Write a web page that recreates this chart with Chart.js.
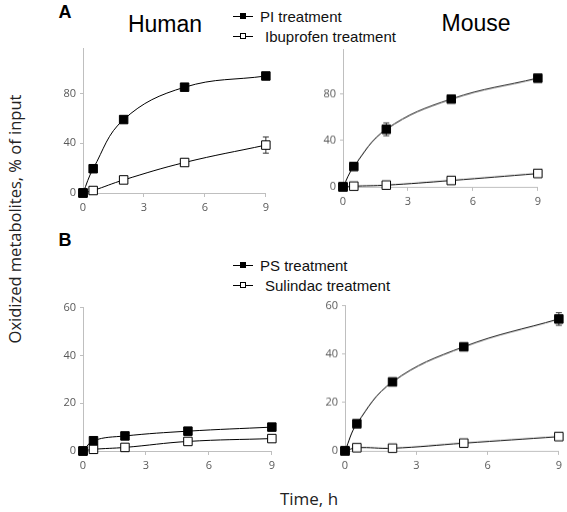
<!DOCTYPE html>
<html>
<head>
<meta charset="utf-8">
<script src="https://cdn.jsdelivr.net/npm/chart.js@4"></script>
<style>
  html, body { margin: 0; padding: 0; background: #fff; }
  body { width: 567px; height: 512px; position: relative; overflow: hidden; }
  canvas { position: absolute; }
  .txt { position: absolute; white-space: nowrap; color: #000; }
  .sans { font-family: "Liberation Sans", Arial, sans-serif; }
  .title { font-size: 23px; transform: translate(-50%, -50%); }
  .letter { font-size: 18px; font-weight: bold; transform: translate(-50%, -50%); }
  .leg { font-size: 15px; color: #111; transform: translateY(-50%); }
  .mark { position: absolute; width: 20px; height: 1px; background: #000; }
  .mark span { position: absolute; left: 7px; top: -3px; width: 4px; height: 4px; border: 1px solid #000; }
  .axt { font-family: "Open Sans", sans-serif; font-size: 16.5px; color: #222; }
</style>
</head>
<body>

<div class="txt sans letter" style="left:65px; top:12px;">A</div>
<div class="txt sans title" style="left:165px; top:24px;">Human</div>
<div class="txt sans title" style="left:476px; top:23px;">Mouse</div>
<div class="mark" style="left:233px; top:16px;"><span style="background:#000"></span></div>
<div class="txt sans leg" style="left:260px; top:16px;">PI treatment</div>
<div class="mark" style="left:233px; top:36px;"><span style="background:#fff"></span></div>
<div class="txt sans leg" style="left:265px; top:36px;">Ibuprofen treatment</div>

<div class="txt sans letter" style="left:65px; top:240px;">B</div>
<div class="mark" style="left:233px; top:265px;"><span style="background:#000"></span></div>
<div class="txt sans leg" style="left:260px; top:265px;">PS treatment</div>
<div class="mark" style="left:233px; top:285px;"><span style="background:#fff"></span></div>
<div class="txt sans leg" style="left:265px; top:285px;">Sulindac treatment</div>

<div class="txt axt" style="left:14px; top:219px; transform: translate(-50%, -50%) rotate(-90deg);">Oxidized metabolites, % of input</div>
<div class="txt axt" style="left:309px; top:498px; font-size:17px; transform: translate(-50%, -50%);">Time, h</div>

<canvas id="humanA"></canvas>
<canvas id="mouseA"></canvas>
<canvas id="humanB"></canvas>
<canvas id="mouseB"></canvas>

<script>
// sampling times (h)
const times = [0, 0.5, 2, 5, 9];
const xTicks = [0, 3, 6, 9];

// panel A
const humanPI = [0, 19.5, 59, 85, 94];
const humanPIErr = [0, 1, 1, 1, 1];
const humanIbu = [0, 2, 10.5, 24.5, 38.5];
const humanIbuErr = [0, 0.5, 1, 1.5, 6.5];
const mousePI = [0, 17.5, 49.5, 75.5, 93.5];
const mousePIErr = [0, 1, 5.5, 2, 1];
const mouseIbu = [0, 0.6, 1.5, 5.5, 11.5];
const mouseIbuErr = [0, 0, 0.5, 0.5, 1];
const ticksA = [0, 40, 80];

// panel B
const humanPS = [0, 4.3, 6.3, 8.3, 10];
const humanPSErr = [0, 0.5, 0.5, 0.5, 0.5];
const humanSul = [0, 0.7, 1.5, 4, 5.2];
const humanSulErr = [0, 0, 0.3, 0.5, 0.8];
const mousePS = [0, 11.2, 28.5, 43, 54.5];
const mousePSErr = [0, 0.5, 0.8, 1.5, 2.6];
const mouseSul = [0, 1.3, 1.1, 3.2, 5.9];
const mouseSulErr = [0, 0, 0, 0.5, 0.8];
const ticksB = [0, 20, 40, 60];

const AXIS = '#bfbfbf';
const LABEL = '#595959';
const YW = 40, XH = 28, PT = 10, PR = 7;

// vertical error bars, drawn under the markers
const errorBars = {
  id: 'errorBars',
  beforeDatasetsDraw(chart) {
    const ctx = chart.ctx;
    const yScale = chart.scales.y;
    ctx.save();
    ctx.strokeStyle = '#333';
    ctx.lineWidth = 1;
    chart.data.datasets.forEach((ds, di) => {
      const meta = chart.getDatasetMeta(di);
      (ds.errors || []).forEach((e, i) => {
        if (!e) return;
        const x = meta.data[i].x;
        const v = ds.data[i].y;
        const top = yScale.getPixelForValue(v + e);
        const bot = yScale.getPixelForValue(v - e);
        ctx.beginPath();
        ctx.moveTo(x, top); ctx.lineTo(x, bot);
        ctx.moveTo(x - 3, top); ctx.lineTo(x + 3, top);
        ctx.moveTo(x - 3, bot); ctx.lineTo(x + 3, bot);
        ctx.stroke();
      });
    });
    ctx.restore();
  }
};

function series(values, errors, filled) {
  return {
    data: times.map((t, i) => ({ x: t, y: values[i] })),
    errors: errors,
    borderColor: '#000',
    borderWidth: 1,
    backgroundColor: filled ? '#000' : '#fff',
    pointStyle: 'rect',
    pointRadius: 6,
    pointBorderColor: '#000',
    pointBorderWidth: 1,
    tension: 0.4,
    clip: false
  };
}

function panel(id, box, yMax, yTicks, datasets) {
  const canvas = document.getElementById(id);
  const left = box.left - YW, top = box.top - PT;
  const w = box.right + PR - left, h = box.bottom + XH - top;
  canvas.width = w; canvas.height = h;
  canvas.style.left = left + 'px'; canvas.style.top = top + 'px';
  canvas.style.width = w + 'px'; canvas.style.height = h + 'px';

  const tickFont = { family: 'Open Sans', size: 11 };
  return new Chart(canvas, {
    type: 'line',
    data: { datasets: datasets },
    options: {
      responsive: false,
      animation: false,
      layout: { padding: { left: 0, top: PT, right: PR, bottom: 0 } },
      plugins: { legend: { display: false }, tooltip: { enabled: false } },
      scales: {
        x: {
          type: 'linear', min: 0, max: 9,
          afterBuildTicks: s => { s.ticks = xTicks.map(v => ({ value: v })); },
          afterFit: s => { s.height = XH; },
          ticks: { color: LABEL, font: tickFont, padding: 4 },
          grid: { drawOnChartArea: false, drawTicks: true, tickLength: 4, color: AXIS },
          border: { color: AXIS }
        },
        y: {
          min: 0, max: yMax,
          afterBuildTicks: s => { s.ticks = yTicks.map(v => ({ value: v })); },
          afterFit: s => { s.width = YW; },
          ticks: { color: LABEL, font: tickFont, padding: 4 },
          grid: { drawOnChartArea: false, drawTicks: true, tickLength: 3, color: AXIS },
          border: { color: AXIS }
        }
      }
    },
    plugins: [errorBars]
  });
}

panel('humanA', { left: 83, right: 266, top: 48, bottom: 193 }, 116, ticksA, [
  series(humanPI, humanPIErr, true),
  series(humanIbu, humanIbuErr, false)
]);
panel('mouseA', { left: 343, right: 538, top: 49, bottom: 186.5 }, 118, ticksA, [
  series(mousePI, mousePIErr, true),
  series(mouseIbu, mouseIbuErr, false)
]);
panel('humanB', { left: 83, right: 272, top: 307, bottom: 451 }, 60, ticksB, [
  series(humanPS, humanPSErr, true),
  series(humanSul, humanSulErr, false)
]);
panel('mouseB', { left: 345, right: 559, top: 305, bottom: 450.5 }, 60, ticksB, [
  series(mousePS, mousePSErr, true),
  series(mouseSul, mouseSulErr, false)
]);
</script>
</body>
</html>
